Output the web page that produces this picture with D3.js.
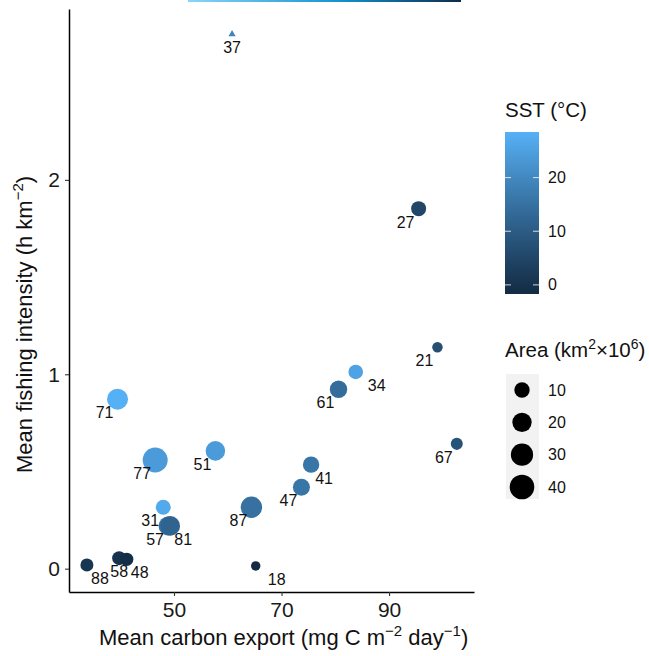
<!DOCTYPE html>
<html>
<head>
<meta charset="utf-8">
<script src="https://d3js.org/d3.v7.min.js"></script>
<style>
body { margin: 0; background: #fff; }
svg { display: block; font-family: "Liberation Sans", Arial, sans-serif; }
</style>
</head>
<body>
<svg></svg>
<script>
// one entry per region
let regions = ['37', '27', '21', '34', '61', '67', '71', '77', '51', '41', '47', '87', '31', '57', '81', '88', '58', '48', '18']
let carbonExport = [60.8, 95.5, 99.0, 83.8, 80.6, 102.6, 39.5, 46.5, 57.7, 75.5, 73.7, 64.4, 48.0, 48.9, 49.3, 33.8, 39.8, 41.2, 65.2]
let fishingIntensity = [2.75, 1.852, 1.139, 1.012, 0.923, 0.642, 0.872, 0.559, 0.606, 0.535, 0.419, 0.316, 0.316, 0.22, 0.22, 0.019, 0.054, 0.048, 0.014]
let sst = [19, 5, 7, 25.5, 14, 8, 28.3, 24, 24, 16, 16, 15, 27, 15, 12, 1, 0, -1, -1.7]
let area = [null, 9.3, 3.7, 8.6, 14.6, 5.0, 25.5, 41.7, 20.8, 12.2, 13.6, 26.9, 9.3, 19, 21, 6.2, 7.6, 6.7, 3.2]
let labelSide = ['B', 'L', 'L', 'RR', 'L', 'L', 'L', 'L', 'L', 'R', 'L', 'L', 'L', 'L', 'R', 'R', 'B', 'R', 'RR']

let xTicks = [50, 70, 90]
let yTicks = [0, 1, 2]
let sstTicks = [0, 10, 20]
let areaBreaks = [10, 20, 30, 40]

let width = 649
let height = 656
let padLeft = 69
let padRight = 474
let padTop = 9
let padBottom = 592
let titleFont = 22
let tickFont = 21
let legendFont = 20.5

let svg = d3.select('svg')
.attr('width', width)
.attr('height', height)

let values = regions.map((r, i) => {
  return { id: r, x: carbonExport[i], y: fishingIntensity[i], sst: sst[i], area: area[i], side: labelSide[i] }
})

let xScale = d3.scaleLinear()
.domain([30.47, 105.8])
.range([padLeft, padRight])

let yScale = d3.scaleLinear()
.domain([-0.12, 2.879])
.range([padBottom, padTop])

let colorScale = d3.scaleLinear()
.domain([-1.7, 28.5])
.range(['#132B43', '#56B1F7'])
.interpolate(d3.interpolateLab)

// ggplot style area scale: sqrt of the offset from the smallest area
let areaMin = 3
let areaMax = 42
let sizeScale = d3.scaleSqrt()
.domain([0, areaMax - areaMin])
.range([4.1, 12.53])

let radius = (v) => sizeScale(v - areaMin)

let defs = svg.append('defs')

// strip left over from the panel above
let strip = defs.append('linearGradient').attr('id', 'strip')
strip.append('stop').attr('offset', '0%').attr('stop-color', '#8ad5f7')
strip.append('stop').attr('offset', '55%').attr('stop-color', '#1693d3')
strip.append('stop').attr('offset', '100%').attr('stop-color', '#0c2c4b')
svg.append('rect')
.attr('x', 188)
.attr('y', 0)
.attr('width', 273)
.attr('height', 2)
.attr('fill', 'url(#strip)')

// axes
let xAxis = d3.axisBottom(xScale).tickValues(xTicks).tickSize(4).tickPadding(6).tickSizeOuter(0)
let yAxis = d3.axisLeft(yScale).tickValues(yTicks).tickFormat(d3.format('d')).tickSize(4).tickPadding(5).tickSizeOuter(0)

svg.append('g')
.attr('id', 'x-axis')
.attr('transform', 'translate(0, ' + padBottom + ')')
.call(xAxis)

svg.append('g')
.attr('id', 'y-axis')
.attr('transform', 'translate(' + padLeft + ', 0)')
.call(yAxis)

svg.selectAll('.domain')
.attr('stroke', '#000')
.attr('stroke-width', 1.5)

svg.selectAll('.tick line')
.attr('stroke', '#333')
.attr('stroke-width', 1.1)

svg.selectAll('.tick text')
.attr('font-family', '"Liberation Sans", Arial, sans-serif')
.attr('font-size', tickFont)
.attr('fill', '#1a1a1a')

// points
let circles = values.filter((d) => d.area != null)
let triangles = values.filter((d) => d.area == null)

svg.append('g')
.selectAll('circle')
.data(circles)
.enter()
.append('circle')
.attr('cx', (d) => xScale(d.x))
.attr('cy', (d) => yScale(d.y))
.attr('r', (d) => radius(d.area))
.attr('fill', (d) => colorScale(d.sst))

svg.append('g')
.selectAll('path')
.data(triangles)
.enter()
.append('path')
.attr('d', d3.symbol().type(d3.symbolTriangle).size(22))
.attr('transform', (d) => 'translate(' + xScale(d.x) + ',' + yScale(d.y) + ')')
.attr('fill', (d) => colorScale(d.sst))

let labelDx = { B: 0, L: -13, R: 13, RR: 21 }

svg.append('g')
.selectAll('text')
.data(values)
.enter()
.append('text')
.attr('x', (d) => xScale(d.x) + labelDx[d.side])
.attr('y', (d) => yScale(d.y) + 19)
.attr('text-anchor', 'middle')
.attr('font-size', 16)
.attr('fill', '#111')
.text((d) => d.id)

// axis titles
let xTitle = svg.append('text')
.attr('x', 99)
.attr('y', 645)
.attr('font-size', titleFont)
.attr('fill', '#111')
xTitle.append('tspan').text('Mean carbon export (mg C m')
xTitle.append('tspan').attr('dy', -9).attr('font-size', 15).text('\u22122')
xTitle.append('tspan').attr('dy', 9).text(' day')
xTitle.append('tspan').attr('dy', -9).attr('font-size', 15).text('\u22121')
xTitle.append('tspan').attr('dy', 9).text(')')

let yTitle = svg.append('text')
.attr('transform', 'translate(32, 473) rotate(-90)')
.attr('font-size', titleFont)
.attr('fill', '#111')
yTitle.append('tspan').text('Mean fishing intensity (h km')
yTitle.append('tspan').attr('dy', -9).attr('font-size', 15).text('\u22122')
yTitle.append('tspan').attr('dy', 9).text(')')

// SST colour bar
let barX = 505
let barW = 34
let barTop = 132
let barBottom = 294
let sstBar = d3.scaleLinear()
.domain(colorScale.domain())
.range([barBottom, barTop])

let grad = defs.append('linearGradient')
.attr('id', 'sstgrad')
.attr('x1', 0).attr('y1', 1).attr('x2', 0).attr('y2', 0)
d3.range(0, 1.0001, 0.1).forEach((t) => {
  grad.append('stop')
  .attr('offset', (t * 100) + '%')
  .attr('stop-color', colorScale(colorScale.domain()[0] + t * (colorScale.domain()[1] - colorScale.domain()[0])))
})

svg.append('text')
.attr('x', barX)
.attr('y', 117)
.attr('font-size', legendFont)
.attr('fill', '#111')
.text('SST (\u00B0C)')

svg.append('rect')
.attr('x', barX)
.attr('y', barTop)
.attr('width', barW)
.attr('height', barBottom - barTop)
.attr('fill', 'url(#sstgrad)')

let sstG = svg.append('g')
sstTicks.forEach((t) => {
  let y = sstBar(t)
  sstG.append('line').attr('x1', barX).attr('x2', barX + 6).attr('y1', y).attr('y2', y)
  .attr('stroke', '#fff').attr('stroke-opacity', 0.8).attr('stroke-width', 1)
  sstG.append('line').attr('x1', barX + barW - 6).attr('x2', barX + barW).attr('y1', y).attr('y2', y)
  .attr('stroke', '#fff').attr('stroke-opacity', 0.8).attr('stroke-width', 1)
  sstG.append('text').attr('x', 548).attr('y', y + 5.5)
  .attr('font-size', 16).attr('fill', '#111').text(t)
})

// area legend
let areaTitle = svg.append('text')
.attr('x', barX)
.attr('y', 357)
.attr('font-size', legendFont)
.attr('fill', '#111')
areaTitle.append('tspan').text('Area (km')
areaTitle.append('tspan').attr('dy', -8).attr('font-size', 14).text('2')
areaTitle.append('tspan').attr('dy', 8).text('\u00D710')
areaTitle.append('tspan').attr('dy', -8).attr('font-size', 14).text('6')
areaTitle.append('tspan').attr('dy', 8).text(')')

svg.append('rect')
.attr('x', 506)
.attr('y', 374)
.attr('width', 33)
.attr('height', 125)
.attr('fill', '#f2f2f2')

let keyY = d3.scalePoint()
.domain(areaBreaks)
.range([390, 487])

svg.append('g')
.selectAll('circle')
.data(areaBreaks)
.enter()
.append('circle')
.attr('cx', 522)
.attr('cy', (d) => keyY(d))
.attr('r', (d) => radius(d))
.attr('fill', '#000')

svg.append('g')
.selectAll('text')
.data(areaBreaks)
.enter()
.append('text')
.attr('x', 548)
.attr('y', (d) => keyY(d) + 5.5)
.attr('font-size', 16)
.attr('fill', '#111')
.text((d) => d)
</script>
</body>
</html>
